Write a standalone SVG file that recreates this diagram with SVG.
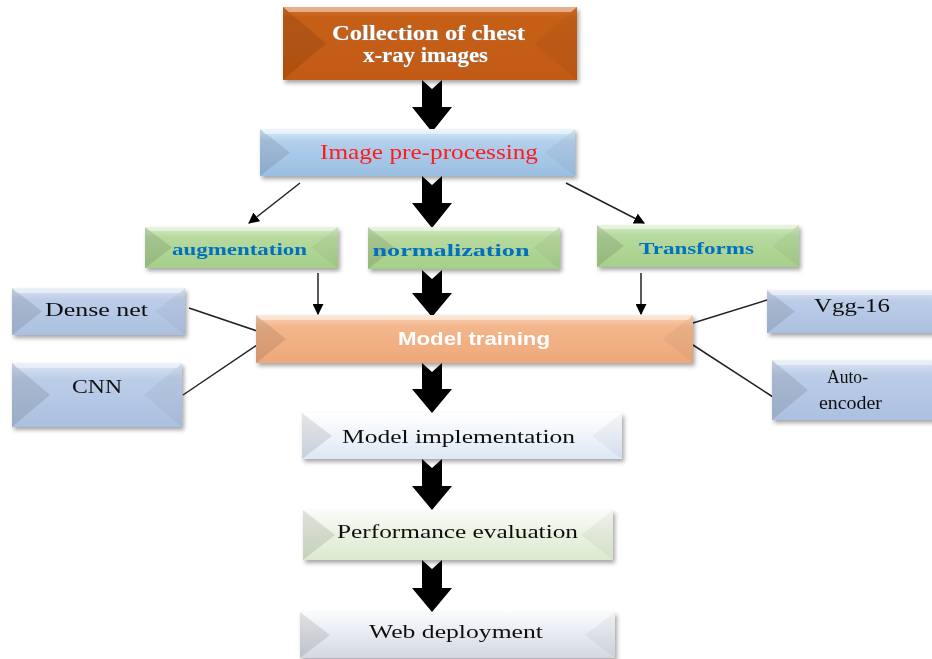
<svg xmlns="http://www.w3.org/2000/svg" width="932" height="659" viewBox="0 0 932 659">
<defs>
<filter id="sh" x="-10%" y="-20%" width="125%" height="150%">
<feDropShadow dx="2" dy="3" stdDeviation="2" flood-color="#000" flood-opacity="0.35"/>
</filter>
<linearGradient id="gOr" x1="0" y1="0" x2="0" y2="1"><stop offset="0" stop-color="#D2702E"/><stop offset="0.15" stop-color="#C65F18"/><stop offset="1" stop-color="#C25A12"/></linearGradient>
<linearGradient id="gBl" x1="0" y1="0" x2="0" y2="1"><stop offset="0" stop-color="#DDEEFB"/><stop offset="0.25" stop-color="#B3D0EC"/><stop offset="1" stop-color="#9ABEE2"/></linearGradient>
<linearGradient id="gGr" x1="0" y1="0" x2="0" y2="1"><stop offset="0" stop-color="#D6EBC8"/><stop offset="0.25" stop-color="#B7DA9F"/><stop offset="1" stop-color="#A5CF89"/></linearGradient>
<linearGradient id="gPe" x1="0" y1="0" x2="0" y2="1"><stop offset="0" stop-color="#FAD4B8"/><stop offset="0.25" stop-color="#F3B68C"/><stop offset="1" stop-color="#EEA879"/></linearGradient>
<linearGradient id="gSl" x1="0" y1="0" x2="0" y2="1"><stop offset="0" stop-color="#DCE6F4"/><stop offset="0.25" stop-color="#BCCDE8"/><stop offset="1" stop-color="#ABC0E0"/></linearGradient>
<linearGradient id="gLb" x1="0" y1="0" x2="0" y2="1"><stop offset="0" stop-color="#FFFFFF"/><stop offset="0.5" stop-color="#EEF4FB"/><stop offset="1" stop-color="#DCE8F5"/></linearGradient>
<linearGradient id="gLg" x1="0" y1="0" x2="0" y2="1"><stop offset="0" stop-color="#FAFCF7"/><stop offset="0.5" stop-color="#E9F2E1"/><stop offset="1" stop-color="#DBEACF"/></linearGradient>
<linearGradient id="gGy" x1="0" y1="0" x2="0" y2="1"><stop offset="0" stop-color="#FAFBFC"/><stop offset="0.5" stop-color="#E6EAF0"/><stop offset="1" stop-color="#D3D9E2"/></linearGradient>
<marker id="ah" viewBox="0 0 10 10" refX="9" refY="5" markerWidth="11" markerHeight="11" orient="auto" markerUnits="userSpaceOnUse">
<path d="M0,0 L10,5 L0,10 Z" fill="#000"/>
</marker>
</defs>
<style>
.box{filter:url(#sh)}
.lt{fill:#000;fill-opacity:0.10}
.rt{fill:#000;fill-opacity:0.04}
.tp{fill:#fff;fill-opacity:0.45}
.ser{font-family:"Liberation Serif","Times New Roman",serif;text-anchor:middle}
.san{font-family:"Liberation Sans",Arial,sans-serif;text-anchor:middle}
.thin{stroke:#222;stroke-width:1.5;fill:none}
.big{fill:#000}
</style>
<rect width="932" height="659" fill="#fff"/>

<g id="connectors">
<path class="big" d="M422,80 L432,89 L442,80 L442,107 L452,107 L432,132 L412,107 L422,107 Z"/>
<path class="big" d="M422,176 L432,185 L442,176 L442,203 L452,203 L432,228 L412,203 L422,203 Z"/>
<path class="big" d="M422,270 L432,279 L442,270 L442,293 L452,293 L432,317 L412,293 L422,293 Z"/>
<path class="big" d="M422,363 L432,372 L442,363 L442,389 L452,389 L432,413 L412,389 L422,389 Z"/>
<path class="big" d="M422,459 L432,468 L442,459 L442,486 L452,486 L432,510 L412,486 L422,486 Z"/>
<path class="big" d="M422,560 L432,569 L442,560 L442,588 L452,588 L432,612 L412,588 L422,588 Z"/>
<line class="thin" x1="300" y1="183" x2="249" y2="223" marker-end="url(#ah)"/>
<line class="thin" x1="566" y1="183" x2="644" y2="223" marker-end="url(#ah)"/>
<line class="thin" x1="318" y1="273" x2="318" y2="314" marker-end="url(#ah)"/>
<line class="thin" x1="641" y1="273" x2="641" y2="314" marker-end="url(#ah)"/>
<line class="thin" x1="189" y1="308" x2="257" y2="331"/>
<line class="thin" x1="183" y1="395" x2="257" y2="345"/>
<line class="thin" x1="693" y1="323" x2="767" y2="300"/>
<line class="thin" x1="693" y1="345" x2="773" y2="397"/>
</g>

<g id="collection" class="box">
<rect x="283" y="7" width="294" height="73" fill="url(#gOr)"/>
<polygon class="lt" points="283,7 326,43.5 283,80"/>
<polygon class="rt" points="577,7 534,43.5 577,80"/>
<polygon class="tp" points="283,7 577,7 571,12 289,12"/>
<text class="ser" x="428.5" y="40" font-size="20" font-weight="bold" fill="#fff" stroke="#9a8a80" stroke-width="0.7" paint-order="stroke" textLength="193" lengthAdjust="spacingAndGlyphs">Collection of chest</text>
<text class="ser" x="425.5" y="62" font-size="20" font-weight="bold" fill="#fff" stroke="#9a8a80" stroke-width="0.7" paint-order="stroke" textLength="125" lengthAdjust="spacingAndGlyphs">x-ray images</text>
</g>

<g id="preprocessing" class="box">
<rect x="260" y="129" width="315" height="47" fill="url(#gBl)"/>
<polygon class="lt" points="260,129 290,152.5 260,176"/>
<polygon class="rt" points="575,129 545,152.5 575,176"/>
<polygon class="tp" points="260,129 575,129 570,134 265,134"/>
<text class="ser" x="429" y="159" font-size="21" fill="#FF1A1A" textLength="218" lengthAdjust="spacingAndGlyphs">Image pre-processing</text>
</g>

<g id="augmentation" class="box">
<rect x="145" y="227" width="193" height="41" fill="url(#gGr)"/>
<polygon class="lt" points="145,227 172,247.5 145,268"/>
<polygon class="rt" points="338,227 311,247.5 338,268"/>
<polygon class="tp" points="145,227 338,227 333,231 150,231"/>
<text class="ser" x="239.5" y="255" font-size="17" font-weight="bold" fill="#0070C0" textLength="135" lengthAdjust="spacingAndGlyphs">augmentation</text>
</g>

<g id="normalization" class="box">
<rect x="368" y="227" width="192" height="42" fill="url(#gGr)"/>
<polygon class="lt" points="368,227 395,248 368,269"/>
<polygon class="rt" points="560,227 533,248 560,269"/>
<polygon class="tp" points="368,227 560,227 555,231 373,231"/>
<text class="ser" x="451" y="256" font-size="17" font-weight="bold" fill="#0070C0" textLength="157" lengthAdjust="spacingAndGlyphs">normalization</text>
</g>

<g id="transforms" class="box">
<rect x="597" y="225" width="202" height="42" fill="url(#gGr)"/>
<polygon class="lt" points="597,225 624,246 597,267"/>
<polygon class="rt" points="799,225 772,246 799,267"/>
<polygon class="tp" points="597,225 799,225 794,229 602,229"/>
<text class="ser" x="696.5" y="254" font-size="17" font-weight="bold" fill="#0070C0" textLength="115" lengthAdjust="spacingAndGlyphs">Transforms</text>
</g>

<g id="modeltraining" class="box">
<rect x="256" y="315" width="437" height="48" fill="url(#gPe)"/>
<polygon class="lt" points="256,315 286,339 256,363"/>
<polygon class="rt" points="693,315 663,339 693,363"/>
<polygon class="tp" points="256,315 693,315 688,320 261,320"/>
<text class="san" x="474" y="345" font-size="19" font-weight="bold" fill="#fff" textLength="152" lengthAdjust="spacingAndGlyphs">Model training</text>
</g>

<g id="densenet" class="box">
<rect x="12" y="288" width="173" height="47" fill="url(#gSl)"/>
<polygon class="lt" points="12,288 42,311.5 12,335"/>
<polygon class="rt" points="185,288 155,311.5 185,335"/>
<polygon class="tp" points="12,288 185,288 180,293 17,293"/>
<text class="ser" x="96.5" y="316" font-size="19" fill="#111" textLength="103" lengthAdjust="spacingAndGlyphs">Dense net</text>
</g>

<g id="cnn" class="box">
<rect x="12" y="363" width="170" height="64" fill="url(#gSl)"/>
<polygon class="lt" points="12,363 50,395 12,427"/>
<polygon class="rt" points="182,363 144,395 182,427"/>
<polygon class="tp" points="12,363 182,363 177,368 17,368"/>
<text class="ser" x="97" y="393" font-size="19" fill="#111" textLength="50" lengthAdjust="spacingAndGlyphs">CNN</text>
</g>

<g id="vgg16" class="box">
<rect x="767" y="290" width="170" height="43" fill="url(#gSl)"/>
<polygon class="lt" points="767,290 795,311.5 767,333"/>
<polygon class="tp" points="767,290 937,290 937,295 772,295"/>
<text class="ser" x="852" y="312" font-size="19" fill="#111" textLength="76" lengthAdjust="spacingAndGlyphs">Vgg-16</text>
</g>

<g id="autoencoder" class="box">
<rect x="772" y="360" width="165" height="60" fill="url(#gSl)"/>
<polygon class="lt" points="772,360 808,390 772,420"/>
<polygon class="tp" points="772,360 937,360 937,365 777,365"/>
<text class="ser" x="847.5" y="383" font-size="19" fill="#111" textLength="41" lengthAdjust="spacingAndGlyphs">Auto-</text>
<text class="ser" x="850.5" y="409" font-size="19" fill="#111" textLength="63" lengthAdjust="spacingAndGlyphs">encoder</text>
</g>

<g id="implementation" class="box">
<rect x="302" y="413" width="320" height="46" fill="url(#gLb)"/>
<polygon class="lt" points="302,413 332,436 302,459"/>
<polygon class="rt" points="622,413 592,436 622,459"/>
<text class="ser" x="458.5" y="443" font-size="19" fill="#111" textLength="233" lengthAdjust="spacingAndGlyphs">Model implementation</text>
</g>

<g id="evaluation" class="box">
<rect x="303" y="510" width="310" height="50" fill="url(#gLg)"/>
<polygon class="lt" points="303,510 335,535 303,560"/>
<polygon class="rt" points="613,510 581,535 613,560"/>
<text class="ser" x="457.5" y="538" font-size="19" fill="#111" textLength="241" lengthAdjust="spacingAndGlyphs">Performance evaluation</text>
</g>

<g id="deployment" class="box">
<rect x="300" y="612" width="315" height="46" fill="url(#gGy)"/>
<polygon class="lt" points="300,612 330,635 300,658"/>
<polygon class="rt" points="615,612 585,635 615,658"/>
<text class="ser" x="456" y="638" font-size="19" fill="#111" textLength="174" lengthAdjust="spacingAndGlyphs">Web deployment</text>
</g>
</svg>
